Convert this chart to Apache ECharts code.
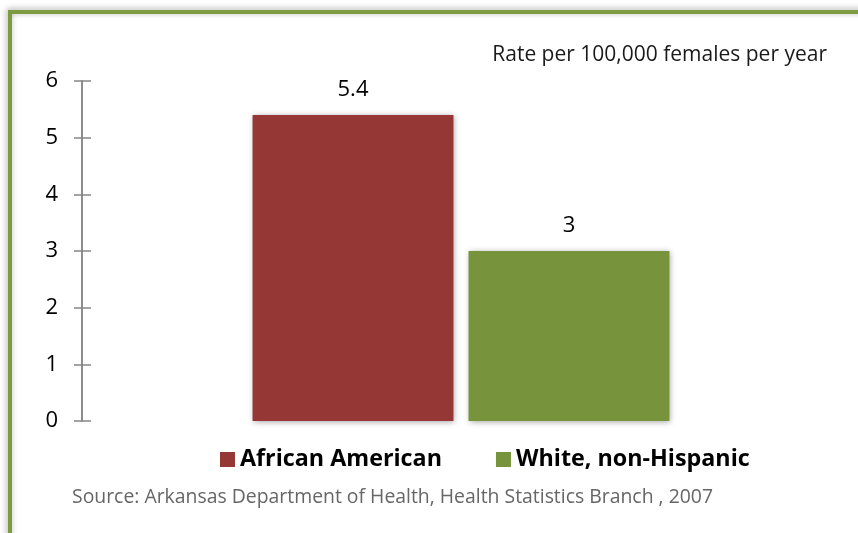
<!DOCTYPE html>
<html>
<head>
<meta charset="utf-8">
<style>
  html, body { margin: 0; padding: 0; background: #ffffff; }
  #chart { width: 858px; height: 533px; }
</style>
<script src="https://cdn.jsdelivr.net/npm/echarts@6/dist/echarts.min.js"></script>
</head>
<body>
<div id="chart"></div>
<script>
// Rate per 100,000 females per year, Arkansas 2007
const categories = ['Rate'];
const seriesNames = ['African American', 'White, non-Hispanic'];
const seriesValues = [[5.4], [3]];
const seriesColors = ['#953735', '#77933C'];
const yTicks = { min: 0, max: 6, interval: 1 };

const FONT = '"Open Sans", sans-serif';

const chart = echarts.init(document.getElementById('chart'));

const valueAxisBase = {
  type: 'value',
  min: yTicks.min,
  max: yTicks.max,
  interval: yTicks.interval,
  splitLine: { show: false },
  axisLine: { show: true, lineStyle: { color: '#868686', width: 1.5 } }
};

chart.setOption({
  animation: false,
  textStyle: { fontFamily: FONT },
  graphic: [
    {
      type: 'rect',
      shape: { x: 10, y: 12, width: 900, height: 600 },
      style: {
        fill: 'none',
        stroke: '#7D9B40',
        lineWidth: 4,
        shadowBlur: 6,
        shadowColor: 'rgba(0,0,0,0.35)',
        shadowOffsetX: -1,
        shadowOffsetY: -1
      },
      z: 10
    },
    {
      type: 'text',
      right: 31,
      top: 45,
      style: {
        text: 'Rate per 100,000 females per year',
        font: '21px ' + FONT,
        fill: '#1a1a1a'
      }
    },
    {
      type: 'text',
      left: 72,
      top: 488,
      style: {
        text: 'Source: Arkansas Department of Health, Health Statistics Branch , 2007',
        font: '19.4px ' + FONT,
        fill: '#666666'
      }
    }
  ],
  grid: { left: 82, right: 18, top: 81, bottom: 112 },
  legend: {
    top: 443,
    left: 215,
    itemWidth: 15,
    itemHeight: 15,
    itemGap: 54,
    icon: 'rect',
    textStyle: { fontSize: 23.3, fontWeight: 'bold', color: '#000', fontFamily: FONT },
    data: seriesNames
  },
  xAxis: {
    type: 'category',
    data: categories,
    axisLine: { show: false },
    axisTick: { show: false },
    axisLabel: { show: false }
  },
  yAxis: [
    Object.assign({}, valueAxisBase, {
      axisTick: { show: true, length: 8, lineStyle: { color: '#868686', width: 1.5 } },
      axisLabel: { fontSize: 22, color: '#000', margin: 24, fontFamily: FONT }
    }),
    Object.assign({}, valueAxisBase, {
      position: 'left',
      axisTick: { show: true, inside: true, length: 9, lineStyle: { color: '#868686', width: 1.5 } },
      axisLabel: { show: false }
    })
  ],
  series: seriesNames.map((name, i) => ({
    name: name,
    type: 'bar',
    data: seriesValues[i],
    barGap: '7.5%',
    barCategoryGap: '45%',
    itemStyle: {
      color: seriesColors[i],
      shadowBlur: 6,
      shadowColor: 'rgba(0,0,0,0.35)',
      shadowOffsetX: 1,
      shadowOffsetY: 1
    },
    label: {
      show: true,
      position: 'top',
      distance: 14,
      fontSize: 22,
      color: '#000',
      fontFamily: FONT
    }
  }))
});
</script>
</body>
</html>
